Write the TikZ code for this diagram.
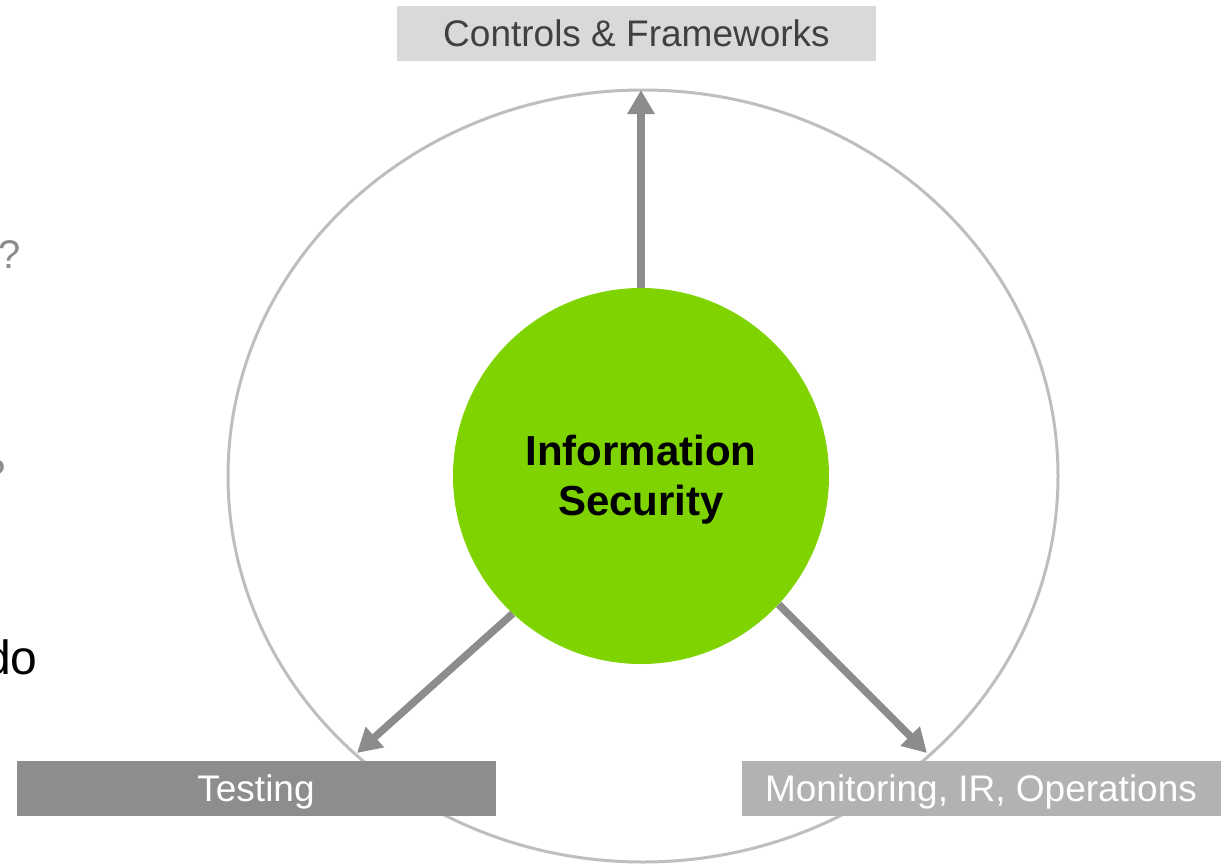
\documentclass[tikz,border=0pt]{standalone}
\usepackage{fontspec}
\setmainfont{Liberation Sans}
\usetikzlibrary{arrows.meta}
\definecolor{isgreen}{RGB}{126,211,0}
\definecolor{ringgray}{RGB}{190,190,190}
\definecolor{arrowgray}{RGB}{140,140,140}
\definecolor{boxlight}{RGB}{217,217,217}
\definecolor{boxdark}{RGB}{141,141,141}
\definecolor{boxmid}{RGB}{178,178,178}
\definecolor{labeldark}{RGB}{64,64,64}
\definecolor{notegray}{RGB}{140,140,140}
\tikzset{
  ringline/.style={draw=ringgray, line width=3pt},
  flow/.style={draw=arrowgray, line width=7.5pt,
    -{Triangle[width=26pt,length=24pt]}},
  area/.style={minimum width=479pt, minimum height=55pt, inner sep=0pt,
    text height=30pt, text depth=4pt,
    font=\fontsize{37}{44}\selectfont},
  core/.style={circle, fill=isgreen, minimum size=376pt, inner sep=0pt},
  coretext/.style={inner sep=0pt, align=center,
    font=\bfseries\fontsize{42}{50}\selectfont},
  note/.style={inner sep=0pt, anchor=base west}
}
\begin{document}
\begin{tikzpicture}[x=1pt,y=-1pt]
\useasboundingbox (0,0) rectangle (1227,863);

% clipped words from the neighbouring text column
\node[note, text=notegray, font=\fontsize{40}{48}\selectfont] (q1) at (-2,268) {?};
\node[note, text=notegray, font=\fontsize{40}{48}\selectfont] (q2) at (-17,487) {?};
\node[note, text=black, font=\fontsize{48}{56}\selectfont] (do) at (-16,674) {do};

% outer cycle
\draw[ringline] (643,476) ellipse [x radius=415, y radius=386];

% arrow end points on the cycle
\coordinate (topTip) at (641,90);
\coordinate (leftTip) at (357,753);
\coordinate (rightTip) at (927,753);

% centre
\node[core] (info) at (641,476) {};
\node[coretext] (infoText) at (641,480) {Information\\Security};

\draw[flow] (info.north) -- (topTip);
\draw[flow] (info.-133.7) -- (leftTip);
\draw[flow] (info.-43) -- (rightTip);

% labels
\node[area, fill=boxlight, text=labeldark] (ctrl) at (636.5,33.5) {Controls \& Frameworks};
\node[area, fill=boxdark, text=white] (test) at (256,788) {Testing};
\node[area, fill=boxmid, text=white] (mon) at (981,788) {Monitoring, IR, Operations};
\end{tikzpicture}
\end{document}
